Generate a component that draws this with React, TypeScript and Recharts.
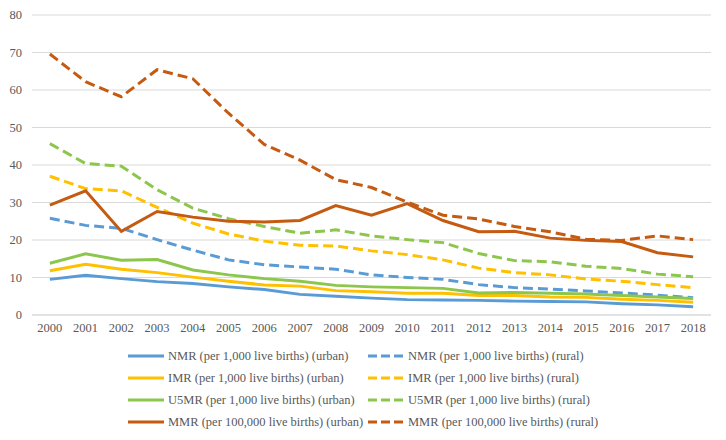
import {
  LineChart,
  Line,
  XAxis,
  YAxis,
  CartesianGrid,
  Legend,
} from "recharts";

const YEARS = [
  "2000", "2001", "2002", "2003", "2004", "2005", "2006", "2007", "2008", "2009",
  "2010", "2011", "2012", "2013", "2014", "2015", "2016", "2017", "2018",
];

const NMR_URBAN = [9.5, 10.6, 9.7, 8.9, 8.4, 7.5, 6.8, 5.5, 5.0, 4.5, 4.1, 4.0, 3.9, 3.7, 3.6, 3.5, 3.0, 2.7, 2.2];
const NMR_RURAL = [25.8, 23.9, 23.1, 20.1, 17.3, 14.7, 13.4, 12.8, 12.2, 10.7, 10.0, 9.5, 8.1, 7.3, 6.9, 6.4, 5.9, 5.3, 4.6];
const IMR_URBAN = [11.8, 13.5, 12.2, 11.3, 10.1, 9.0, 8.0, 7.7, 6.5, 6.2, 5.8, 5.8, 5.2, 5.2, 4.8, 4.7, 4.2, 3.9, 3.4];
const IMR_RURAL = [37.0, 33.7, 33.1, 28.7, 24.5, 21.6, 19.7, 18.6, 18.4, 17.1, 16.1, 14.7, 12.5, 11.3, 10.7, 9.6, 9.0, 8.1, 7.3];
const U5MR_URBAN = [13.8, 16.3, 14.6, 14.8, 12.0, 10.7, 9.7, 9.0, 7.9, 7.5, 7.3, 7.1, 5.9, 6.0, 5.8, 5.6, 5.2, 4.8, 4.4];
const U5MR_RURAL = [45.7, 40.4, 39.7, 33.4, 28.5, 25.7, 23.6, 21.8, 22.7, 21.1, 20.1, 19.3, 16.4, 14.5, 14.2, 13.0, 12.4, 10.9, 10.2];
const MMR_URBAN = [29.3, 33.1, 22.3, 27.6, 26.1, 25.0, 24.8, 25.2, 29.2, 26.6, 29.7, 25.2, 22.2, 22.3, 20.5, 19.9, 19.6, 16.6, 15.5];
const MMR_RURAL = [69.6, 62.2, 58.2, 65.4, 63.0, 53.8, 45.5, 41.3, 36.1, 34.0, 30.1, 26.6, 25.6, 23.6, 22.2, 20.2, 19.9, 21.1, 20.1];

const Y_TICKS = [0, 10, 20, 30, 40, 50, 60, 70, 80];

const FONT = "'Liberation Serif', 'Times New Roman', serif";
const TEXT = "#595959";

const SERIES = [
  { key: "nmrU", name: "NMR (per 1,000 live births) (urban)", color: "#5B9BD5", dashed: false, values: NMR_URBAN },
  { key: "nmrR", name: "NMR (per 1,000 live births) (rural)", color: "#5B9BD5", dashed: true, values: NMR_RURAL },
  { key: "imrU", name: "IMR (per 1,000 live births) (urban)", color: "#FFC000", dashed: false, values: IMR_URBAN },
  { key: "imrR", name: "IMR (per 1,000 live births) (rural)", color: "#FFC000", dashed: true, values: IMR_RURAL },
  { key: "u5U", name: "U5MR (per 1,000 live births) (urban)", color: "#8DC64D", dashed: false, values: U5MR_URBAN },
  { key: "u5R", name: "U5MR (per 1,000 live births) (rural)", color: "#8DC64D", dashed: true, values: U5MR_RURAL },
  { key: "mmrU", name: "MMR (per 100,000 live births) (urban)", color: "#C55A11", dashed: false, values: MMR_URBAN },
  { key: "mmrR", name: "MMR (per 100,000 live births) (rural)", color: "#C55A11", dashed: true, values: MMR_RURAL },
];

const data = YEARS.map((year, i) => {
  const row: Record<string, string | number> = { year };
  SERIES.forEach((s) => {
    row[s.key] = s.values[i];
  });
  return row;
});

function LegendBox() {
  return (
    <div
      style={{
        display: "grid",
        gridTemplateColumns: "240px 260px",
        paddingLeft: 128,
        fontFamily: FONT,
        fontSize: 12.5,
        color: TEXT,
      }}
    >
      {SERIES.map((s) => (
        <div key={s.key} style={{ display: "flex", alignItems: "center", height: 22, whiteSpace: "nowrap" }}>
          <svg width={36} height={6} style={{ marginRight: 4 }}>
            <line
              x1={0}
              y1={3}
              x2={36}
              y2={3}
              stroke={s.color}
              strokeWidth={3}
              strokeDasharray={s.dashed ? "9 4" : undefined}
            />
          </svg>
          <span>{s.name}</span>
        </div>
      ))}
    </div>
  );
}

const tickStyle = { fill: TEXT, fontSize: 12.5, fontFamily: FONT };

export default function App() {
  return (
    <div style={{ position: "absolute", left: 0, top: 0, background: "#fff", fontFamily: FONT }}>
      <LineChart
        width={726}
        height={440}
        data={data}
        margin={{ top: 15, right: 15, bottom: 0, left: 0 }}
        style={{ fontFamily: FONT }}
      >
        <CartesianGrid vertical={false} stroke="#d9d9d9" />
        <XAxis
          dataKey="year"
          padding={{ left: 17.87, right: 17.87 }}
          height={30}
          tickLine={false}
          axisLine={{ stroke: "#d9d9d9" }}
          tick={tickStyle}
          interval={0}
        />
        <YAxis
          width={32}
          domain={[0, 80]}
          ticks={Y_TICKS}
          tickLine={false}
          axisLine={false}
          tickMargin={4}
          tick={tickStyle}
        />
        <Legend
          verticalAlign="bottom"
          height={95}
          wrapperStyle={{ left: 0, width: 726 }}
          content={() => <LegendBox />}
        />
        {SERIES.map((s) => (
          <Line
            key={s.key}
            dataKey={s.key}
            name={s.name}
            type="linear"
            stroke={s.color}
            strokeWidth={3}
            strokeDasharray={s.dashed ? "10 5" : undefined}
            dot={false}
            activeDot={false}
            isAnimationActive={false}
          />
        ))}
      </LineChart>
    </div>
  );
}
